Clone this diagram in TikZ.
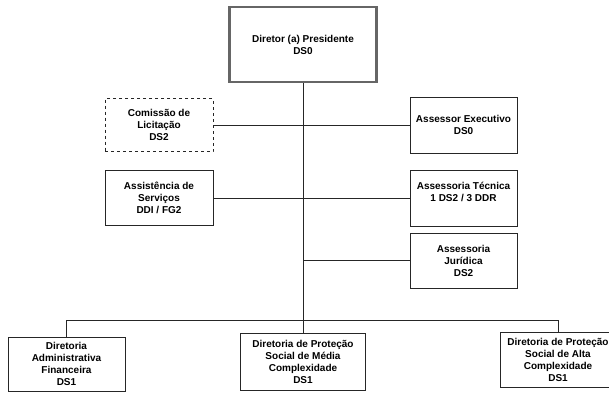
\documentclass[tikz,border=0pt]{standalone}
\usepackage{fontspec}
\setmainfont{Liberation Sans}
\begin{document}
\begin{tikzpicture}[x=1pt,y=-1pt,
  box/.style={draw=black!85, line width=0.7pt, fill=white, inner sep=0pt, align=center,
    font=\bfseries\fontsize{10}{12}\selectfont},
  conn/.style={draw=black!85, line width=0.7pt}]
\useasboundingbox (0,0) rectangle (609,394);
\clip (0,0) rectangle (609,394);
\fill[white] (0,0) rectangle (609,394);
\coordinate (bus) at (0,320);
\node[box, minimum width=147pt, minimum height=75pt, line width=2.2pt, draw=black!60] (pres) at (303,44.5) {Diretor (a) Presidente\\DS0};
\node[box, dashed, minimum width=108pt, minimum height=53pt] (com) at (159,125) {Comissão de\\Licitação\\DS2};
\node[box, minimum width=107pt, minimum height=56pt] (ae) at (463.5,125) {Assessor Executivo\\DS0};
\node[box, minimum width=108pt, minimum height=55pt] (ass) at (159,198) {Assistência de\\Serviços\\DDI / FG2};
\node[box, minimum width=107pt, minimum height=56pt] (at) at (463.5,198) {Assessoria Técnica\\1 DS2 / 3 DDR\\~};
\node[box, minimum width=107pt, minimum height=55pt] (jur) at (463.5,260.5) {Assessoria\\Jurídica\\DS2};
\node[box, minimum width=117pt, minimum height=54pt] (adm) at (66.5,364) {Diretoria\\Administrativa\\Financeira\\DS1};
\node[box, minimum width=125pt, minimum height=57pt] (med) at (303,361.5) {Diretoria de Proteção\\Social de Média\\Complexidade\\DS1};
\node[box, minimum width=116pt, minimum height=55pt] (alta) at (558,359.5) {Diretoria de Proteção\\Social de Alta\\Complexidade\\DS1};
\draw[conn] (pres.south) -- (pres.south |- bus);
\draw[conn] (com.east) -- (ae.west);
\draw[conn] (ass.east) -- (at.west);
\draw[conn] (jur.west) -- (jur.west -| pres.south);
\draw[conn] (adm.north) |- (bus -| alta.north) -- (alta.north);
\draw[conn] (med.north) -- (med.north |- bus);
\end{tikzpicture}
\end{document}
